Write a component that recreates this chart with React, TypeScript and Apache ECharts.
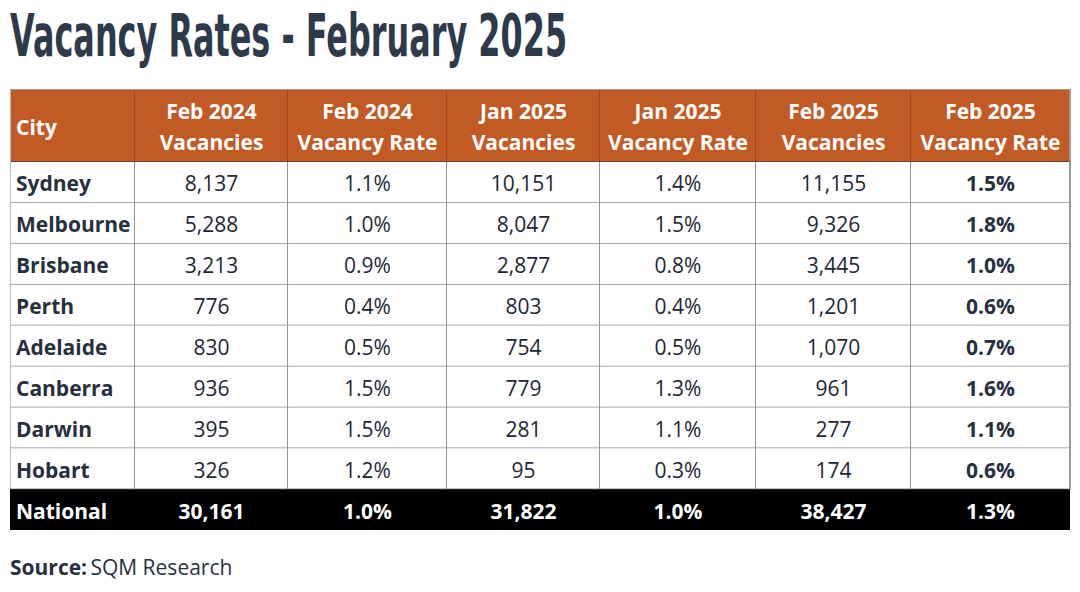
import React, { useEffect, useRef } from "react";
import * as echarts from "echarts";

// ---- Data ----
const titleText = "Vacancy Rates - February 2025";
const sourceLabel = "Source:";
const sourceName = "SQM Research";
const headers = [
  "City",
  "Feb 2024\nVacancies",
  "Feb 2024\nVacancy Rate",
  "Jan 2025\nVacancies",
  "Jan 2025\nVacancy Rate",
  "Feb 2025\nVacancies",
  "Feb 2025\nVacancy Rate",
];
const cities = ["Sydney", "Melbourne", "Brisbane", "Perth", "Adelaide", "Canberra", "Darwin", "Hobart"];
const feb2024Vacancies = [8137, 5288, 3213, 776, 830, 936, 395, 326];
const feb2024Rate = [1.1, 1.0, 0.9, 0.4, 0.5, 1.5, 1.5, 1.2];
const jan2025Vacancies = [10151, 8047, 2877, 803, 754, 779, 281, 95];
const jan2025Rate = [1.4, 1.5, 0.8, 0.4, 0.5, 1.3, 1.1, 0.3];
const feb2025Vacancies = [11155, 9326, 3445, 1201, 1070, 961, 277, 174];
const feb2025Rate = [1.5, 1.8, 1.0, 0.6, 0.7, 1.6, 1.1, 0.6];
const nationalLabel = "National";
const nationalValues = [30161, 1.0, 31822, 1.0, 38427, 1.3];

// ---- Layout (axis units = px inside the grid) ----
const colEdges = [0, 125, 278, 437, 590, 746, 901, 1060];
const headerH = 73;
const rowH = 40.9;
const tableH = headerH + rowH * 9;

const FONT = "'Open Sans', 'Noto Sans', sans-serif";
const ORANGE = "#C25A25";
const NAVY = "#27303F";
const FS = 21;

const fmtN = (v: number) => v.toLocaleString("en-US");
const fmtR = (v: number) => v.toFixed(1) + "%";

function buildCells() {
  const cells: any[] = [];
  headers.forEach((h, c) => cells.push({ value: [c, 0], text: h, kind: "header" }));
  const cols = [feb2024Vacancies, feb2024Rate, jan2025Vacancies, jan2025Rate, feb2025Vacancies, feb2025Rate];
  cities.forEach((city, r) => {
    cells.push({ value: [0, r + 1], text: city, kind: "city" });
    cols.forEach((arr, i) => {
      const isRate = i % 2 === 1;
      cells.push({
        value: [i + 1, r + 1],
        text: isRate ? fmtR(arr[r]) : fmtN(arr[r]),
        kind: i === 5 ? "bold" : "body",
      });
    });
  });
  cells.push({ value: [0, 9], text: nationalLabel, kind: "national" });
  nationalValues.forEach((v, i) => {
    cells.push({ value: [i + 1, 9], text: i % 2 === 1 ? fmtR(v) : fmtN(v), kind: "national" });
  });
  return cells;
}

const rowTop = (r: number) => (r === 0 ? 0 : headerH + (r - 1) * rowH);
const rowBottom = (r: number) => (r === 0 ? headerH : headerH + r * rowH);

export default function App() {
  const ref = useRef<HTMLDivElement>(null);
  useEffect(() => {
    if (!ref.current) return;
    const chart = echarts.init(ref.current, null, { renderer: "svg" });
    const cells = buildCells();
    chart.setOption({
      animation: false,
      backgroundColor: "#ffffff",
      grid: { left: 10, top: 89, width: 1060, height: tableH },
      xAxis: { type: "value", min: 0, max: 1060, show: false },
      yAxis: { type: "value", min: 0, max: tableH, inverse: true, show: false },
      graphic: [
        {
          type: "text",
          x: 10,
          y: 36,
          scaleX: 0.55,
          style: {
            text: titleText,
            fontFamily: "'DejaVu Sans', sans-serif",
            fontWeight: "bold",
            fontSize: 58,
            verticalAlign: "middle",
            align: "left",
            fill: "#2E3A4B",
          },
        },
        {
          type: "text",
          left: 10,
          top: 556,
          style: {
            text: "{b|" + sourceLabel + "} {n|" + sourceName + "}",
            rich: {
              b: { fontFamily: FONT, fontWeight: "bold", fontSize: FS, fill: NAVY },
              n: { fontFamily: FONT, fontSize: FS, fill: NAVY },
            },
          },
        },
      ],
      series: [
        {
          type: "custom",
          coordinateSystem: "cartesian2d",
          data: cells,
          renderItem: (params: any, api: any) => {
            const c = api.value(0);
            const r = api.value(1);
            const cell = cells[params.dataIndex];
            const p0 = api.coord([colEdges[c], rowTop(r)]);
            const p1 = api.coord([colEdges[c + 1], rowBottom(r)]);
            const x0 = p0[0], y0 = p0[1], x1 = p1[0], y1 = p1[1];
            const kind = cell.kind;
            const fill = kind === "header" ? ORANGE : kind === "national" ? "#000000" : "#ffffff";
            const isLeft = c === 0;
            const txtFill = kind === "header" || kind === "national" ? "#ffffff" : kind === "body" ? "#1E2736" : NAVY;
            const bold = kind !== "body";
            const children: any[] = [
              { type: "rect", shape: { x: x0, y: y0, width: x1 - x0, height: y1 - y0 }, style: { fill } },
            ];
            if (kind !== "national") {
              const lastCol = c === colEdges.length - 2;
              children.push({
                type: "line",
                shape: { x1: x1, y1: y0, x2: x1, y2: y1 },
                style: { stroke: lastCol ? "#999999" : kind === "header" ? "#7a3a1a" : "#2a2a2a", lineWidth: lastCol ? 2 : 1 },
              });
              children.push({
                type: "line",
                shape: { x1: x0, y1: y1, x2: x1, y2: y1 },
                style: { stroke: kind === "header" ? "#2a2a2a" : "#8c8c8c", lineWidth: kind === "header" ? 1 : 1.5 },
              });
              if (isLeft) {
                children.push({
                  type: "line",
                  shape: { x1: x0 + 0.5, y1: y0, x2: x0 + 0.5, y2: y1 },
                  style: { stroke: "#bbbbbb", lineWidth: 1 },
                });
              }
              if (r === 0) {
                children.push({
                  type: "line",
                  shape: { x1: x0, y1: y0 + 0.5, x2: x1, y2: y0 + 0.5 },
                  style: { stroke: "#999999", lineWidth: 1 },
                });
              }
            }
            children.push({
              type: "text",
              style: {
                text: cell.text,
                x: isLeft ? x0 + 6 : (x0 + x1) / 2,
                y: (y0 + y1) / 2 + 1,
                align: isLeft ? "left" : "center",
                verticalAlign: "middle",
                fontFamily: FONT,
                fontSize: FS,
                fontWeight: bold ? "bold" : "normal",
                lineHeight: 31,
                fill: txtFill,
              },
            });
            return { type: "group", children };
          },
        },
      ],
    });
    return () => chart.dispose();
  }, []);
  return (
    <div
      ref={ref}
      style={{ position: "fixed", left: 0, top: 0, width: 1080, height: 592, background: "#fff" }}
    />
  );
}
